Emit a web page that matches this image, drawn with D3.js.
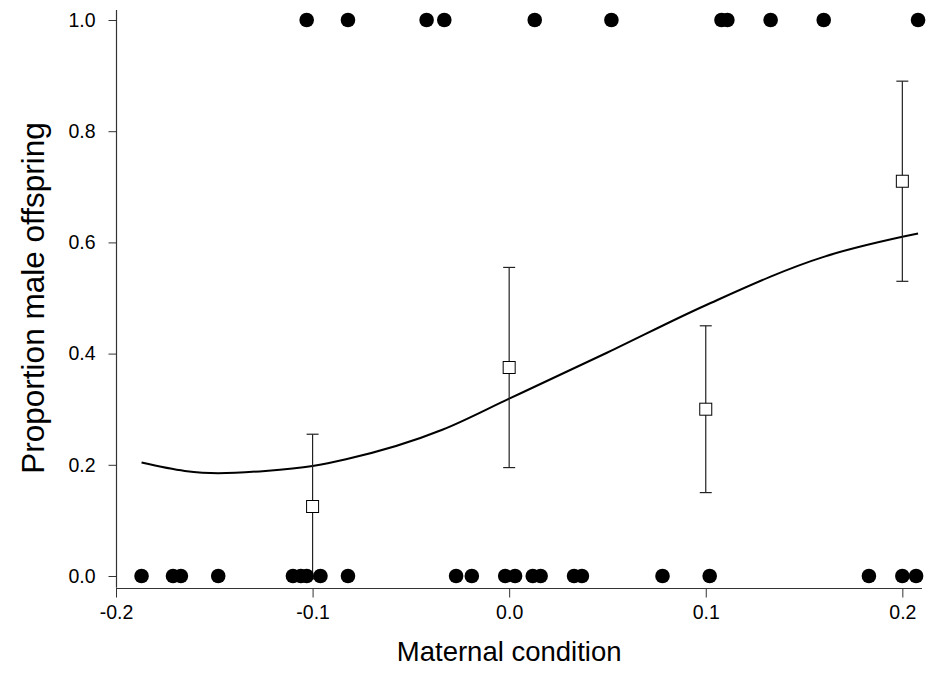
<!DOCTYPE html>
<html>
<head>
<meta charset="utf-8">
<script src="https://cdn.jsdelivr.net/npm/d3@7"></script>
<style>
  html, body { margin: 0; padding: 0; background: #fff; }
  svg text { font-family: "Liberation Sans", Arial, sans-serif; fill: #000; }
</style>
</head>
<body>
<svg id="chart" width="935" height="688"></svg>
<script>
// ---- data ----
const xTicks = [-0.2, -0.1, 0.0, 0.1, 0.2];
const yTicks = [0.0, 0.2, 0.4, 0.6, 0.8, 1.0];

// individual females that produced a male (1) or female (0)
const maleX = [-0.103, -0.082, -0.042, -0.033, 0.013, 0.052, 0.108, 0.111, 0.133, 0.160, 0.208];
const femaleX = [-0.187, -0.171, -0.167, -0.148, -0.110, -0.106, -0.103, -0.096, -0.082,
                 -0.027, -0.019, -0.002, 0.003, 0.012, 0.016, 0.033, 0.037, 0.078, 0.102,
                 0.183, 0.200, 0.207];

// binned means with error bars
const binX = [-0.1, 0.0, 0.1, 0.2];
const binMean = [0.125, 0.375, 0.30, 0.71];
const binErr = [0.13, 0.18, 0.15, 0.18];

// fitted curve
const fitX = [-0.187, -0.165, -0.148, -0.124, -0.100, -0.083, -0.034, 0.000, 0.050, 0.100, 0.160, 0.200, 0.208];
const fitY = [0.204, 0.189, 0.185, 0.189, 0.198, 0.210, 0.263, 0.319, 0.402, 0.487, 0.574, 0.610, 0.616];

const xDomain = [-0.2, 0.21];
const yDomain = [-0.021, 1.018];

// ---- scales ----
const svg = d3.select("#chart");
const x = d3.scaleLinear().domain(xDomain).range([116, 922]);
const y = d3.scaleLinear().domain([0, 1]).range([576, 20]);

const axisColor = "#333";
const fmt = d => d3.format(".1f")(d).replace("\u2212", "-");

// axes lines
svg.append("line")
  .attr("x1", x(xDomain[0])).attr("x2", x(xDomain[1]))
  .attr("y1", Math.round(y(yDomain[0])) + 0.5).attr("y2", Math.round(y(yDomain[0])) + 0.5)
  .attr("stroke", axisColor).attr("stroke-width", 1.2);
svg.append("line")
  .attr("x1", Math.round(x(xDomain[0])) + 0.5).attr("x2", Math.round(x(xDomain[0])) + 0.5)
  .attr("y1", y(yDomain[0])).attr("y2", y(yDomain[1]))
  .attr("stroke", axisColor).attr("stroke-width", 1.2);

// x axis
const xAxis = d3.axisBottom(x).tickValues(xTicks).tickFormat(fmt).tickSize(9).tickPadding(8);
const gx = svg.append("g").attr("transform", `translate(0,${Math.round(y(yDomain[0])) + 0.5})`).call(xAxis);
gx.select(".domain").remove();
gx.selectAll(".tick line").attr("stroke", axisColor);
gx.selectAll(".tick text").attr("font-size", 19.5).attr("font-family", "Liberation Sans, Arial, sans-serif");

// y axis
const yAxis = d3.axisLeft(y).tickValues(yTicks).tickFormat(fmt).tickSize(8).tickPadding(13);
const gy = svg.append("g").attr("transform", `translate(${Math.round(x(xDomain[0])) + 0.5},0)`).call(yAxis);
gy.select(".domain").remove();
gy.selectAll(".tick line").attr("stroke", axisColor);
gy.selectAll(".tick text").attr("font-size", 19.5).attr("font-family", "Liberation Sans, Arial, sans-serif");

// axis titles
svg.append("text")
  .attr("x", x(0)).attr("y", 661)
  .attr("text-anchor", "middle")
  .attr("font-size", 27.5)
  .text("Maternal condition");
svg.append("text")
  .attr("transform", `translate(44,${y(0.5)}) rotate(-90)`)
  .attr("text-anchor", "middle")
  .attr("font-size", 31.5)
  .text("Proportion male offspring");

// fitted curve
const line = d3.line().x((d, i) => x(fitX[i])).y((d, i) => y(fitY[i])).curve(d3.curveMonotoneX);
svg.append("path")
  .attr("d", line(fitX))
  .attr("fill", "none").attr("stroke", "#000").attr("stroke-width", 2);

// error bars
const eb = svg.append("g").attr("stroke", "#222").attr("stroke-width", 1.2);
binX.forEach((bx, i) => {
  const lo = binMean[i] - binErr[i], hi = binMean[i] + binErr[i];
  eb.append("line").attr("x1", x(bx)).attr("x2", x(bx)).attr("y1", y(lo)).attr("y2", y(hi));
  eb.append("line").attr("x1", x(bx) - 6).attr("x2", x(bx) + 6).attr("y1", y(hi)).attr("y2", y(hi));
  eb.append("line").attr("x1", x(bx) - 6).attr("x2", x(bx) + 6).attr("y1", y(lo)).attr("y2", y(lo));
});

// squares
svg.append("g").selectAll("rect").data(binX).join("rect")
  .attr("x", d => x(d) - 6).attr("y", (d, i) => y(binMean[i]) - 6)
  .attr("width", 12).attr("height", 12)
  .attr("fill", "#fff").attr("stroke", "#000").attr("stroke-width", 1);

// raw points
svg.append("g").selectAll("circle.m").data(maleX).join("circle")
  .attr("cx", d => x(d)).attr("cy", y(1)).attr("r", 7.3).attr("fill", "#000");
svg.append("g").selectAll("circle.f").data(femaleX).join("circle")
  .attr("cx", d => x(d)).attr("cy", y(0)).attr("r", 7.3).attr("fill", "#000");
</script>
</body>
</html>
